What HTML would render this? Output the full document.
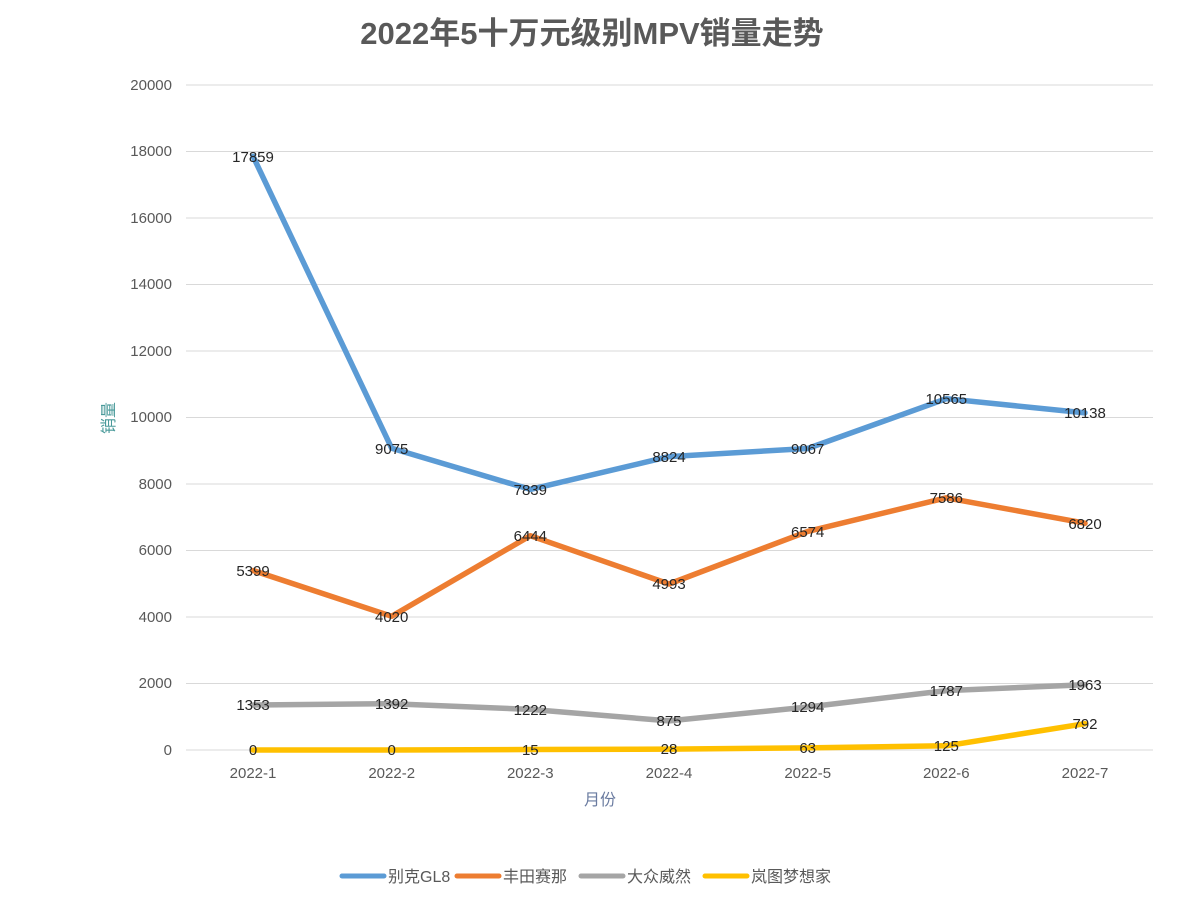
<!DOCTYPE html>
<html><head><meta charset="utf-8"><style>
body{margin:0;background:#fff;}
svg text{font-family:"Liberation Sans","Noto Sans CJK SC",sans-serif;}
</style></head><body>
<svg width="1186" height="903" viewBox="0 0 1186 903" xmlns="http://www.w3.org/2000/svg">
<rect width="1186" height="903" fill="#fff"/>
<text x="592" y="44" text-anchor="middle" font-size="31" font-weight="bold" fill="#595959">2022年5十万元级别MPV销量走势</text>
<g stroke="#d9d9d9" stroke-width="1">
<line x1="186" x2="1153" y1="85" y2="85"/><line x1="186" x2="1153" y1="151.5" y2="151.5"/>
<line x1="186" x2="1153" y1="218" y2="218"/><line x1="186" x2="1153" y1="284.5" y2="284.5"/>
<line x1="186" x2="1153" y1="351" y2="351"/><line x1="186" x2="1153" y1="417.5" y2="417.5"/>
<line x1="186" x2="1153" y1="484" y2="484"/><line x1="186" x2="1153" y1="550.5" y2="550.5"/>
<line x1="186" x2="1153" y1="617" y2="617"/><line x1="186" x2="1153" y1="683.5" y2="683.5"/>
<line x1="186" x2="1153" y1="750" y2="750"/>
</g>
<g font-size="15" fill="#595959" text-anchor="end">
<text x="172" y="90">20000</text><text x="172" y="156">18000</text><text x="172" y="223">16000</text>
<text x="172" y="289">14000</text><text x="172" y="356">12000</text><text x="172" y="422">10000</text>
<text x="172" y="489">8000</text><text x="172" y="555">6000</text><text x="172" y="622">4000</text>
<text x="172" y="688">2000</text><text x="172" y="755">0</text>
</g>
<g font-size="15" fill="#595959" text-anchor="middle">
<text x="253" y="778">2022-1</text><text x="391.7" y="778">2022-2</text><text x="530.3" y="778">2022-3</text>
<text x="669" y="778">2022-4</text><text x="807.7" y="778">2022-5</text><text x="946.3" y="778">2022-6</text><text x="1085" y="778">2022-7</text>
</g>
<text x="600" y="805" text-anchor="middle" font-size="16" fill="#6a7ba0">月份</text>
<text transform="translate(114,418) rotate(-90)" text-anchor="middle" font-size="16" fill="#4a9a9a">销量</text>
<g fill="none" stroke-width="5.5" stroke-linejoin="round" stroke-linecap="round">
<polyline stroke="#5b9bd5" points="253,156.2 391.7,448.3 530.3,489.4 669,456.6 807.7,448.5 946.3,398.7 1085,412.9"/>
<polyline stroke="#ed7d31" points="253,570.5 391.7,616.3 530.3,535.7 669,584 807.7,531.4 946.3,497.8 1085,523.2"/>
<polyline stroke="#a5a5a5" points="253,705 391.7,703.7 530.3,709.4 669,720.9 807.7,707 946.3,690.6 1085,684.7"/>
<polyline stroke="#ffc000" points="253,750 391.7,750 530.3,749.5 669,749.1 807.7,747.9 946.3,745.8 1085,723.7"/>
</g>
<g font-size="15" fill="#262626" text-anchor="middle">
<text x="253" y="162">17859</text><text x="391.7" y="454">9075</text><text x="530.3" y="495">7839</text>
<text x="669" y="462">8824</text><text x="807.7" y="454">9067</text><text x="946.3" y="404">10565</text><text x="1085" y="418">10138</text>
<text x="253" y="576">5399</text><text x="391.7" y="622">4020</text><text x="530.3" y="541">6444</text>
<text x="669" y="589">4993</text><text x="807.7" y="537">6574</text><text x="946.3" y="503">7586</text><text x="1085" y="529">6820</text>
<text x="253" y="710">1353</text><text x="391.7" y="709">1392</text><text x="530.3" y="715">1222</text>
<text x="669" y="726">875</text><text x="807.7" y="712">1294</text><text x="946.3" y="696">1787</text><text x="1085" y="690">1963</text>
<text x="253" y="755">0</text><text x="391.7" y="755">0</text><text x="530.3" y="755">15</text>
<text x="669" y="754">28</text><text x="807.7" y="753">63</text><text x="946.3" y="751">125</text><text x="1085" y="729">792</text>
</g>
<g stroke-width="5" stroke-linecap="round">
<line x1="342" x2="384" y1="876" y2="876" stroke="#5b9bd5"/>
<line x1="457" x2="499" y1="876" y2="876" stroke="#ed7d31"/>
<line x1="581" x2="623" y1="876" y2="876" stroke="#a5a5a5"/>
<line x1="705" x2="747" y1="876" y2="876" stroke="#ffc000"/>
</g>
<g font-size="16" fill="#595959">
<text x="388" y="882">别克GL8</text><text x="503" y="882">丰田赛那</text>
<text x="627" y="882">大众威然</text><text x="751" y="882">岚图梦想家</text>
</g>
</svg>
</body></html>
